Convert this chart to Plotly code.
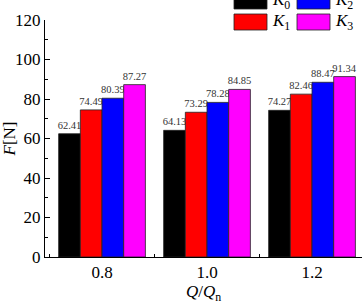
import plotly.graph_objects as go

categories = ["0.8", "1.0", "1.2"]
series_names = ["K0", "K1", "K2", "K3"]
legend_labels = ["<i>K</i><sub>0</sub>", "<i>K</i><sub>1</sub>", "<i>K</i><sub>2</sub>", "<i>K</i><sub>3</sub>"]
K0 = [62.41, 64.13, 74.27]
K1 = [74.49, 73.29, 82.46]
K2 = [80.39, 78.28, 88.47]
K3 = [87.27, 84.85, 91.34]
colors = ["#000000", "#FF0000", "#0000FF", "#FF00FF"]
y_ticks = [0, 20, 40, 60, 80, 100, 120]

FONT = "Liberation Serif, Times New Roman, serif"
fig = go.Figure()
for name, vals, col in zip(series_names, [K0, K1, K2, K3], colors):
    fig.add_trace(go.Bar(
        x=categories, y=vals, name=name, marker=dict(color=col, line=dict(color="#222222", width=0.8)),
        text=[f"{v:.2f}" for v in vals], textposition="outside", constraintext="none",
        textfont=dict(family=FONT, size=10.5, color="#333333"), cliponaxis=False,
        showlegend=False,
    ))

W, H = 362, 304
L, R, T, B = 45, 0, 20, 47
pw, ph = W - L - R, H - T - B

def px(x):
    return (x - L) / pw

def py(y):
    return (H - B - y) / ph

# manual legend, 2 columns: (K0, K2) top row, (K1, K3) second row
leg_pos = {0: (234, -7), 2: (297, -7), 1: (234, 14), 3: (297, 14)}
shapes = []
annotations = []
for i, col in enumerate(colors):
    x0, y0 = leg_pos[i]
    shapes.append(dict(type="rect", xref="paper", yref="paper", x0=px(x0), x1=px(x0 + 33),
                       y0=py(y0 + 16), y1=py(y0), fillcolor=col, line=dict(color="#222222", width=0.8)))
    annotations.append(dict(xref="paper", yref="paper", x=px(x0 + 36), y=py(y0 + 8), text=legend_labels[i],
                            showarrow=False, xanchor="left", yanchor="middle",
                            font=dict(family=FONT, size=17, color="black")))

fig.update_layout(
    width=W, height=H, margin=dict(l=L, r=R, t=T, b=B),
    paper_bgcolor="white", plot_bgcolor="white",
    barmode="group", bargap=0.174, bargroupgap=0,
    font=dict(family=FONT, size=16, color="black"),
    shapes=shapes, annotations=annotations,
    xaxis=dict(range=[-0.543, 2.476], showline=True, linecolor="black", linewidth=1,
               ticks="inside", tickson="boundaries", ticklen=3, tickcolor="black",
               showgrid=False, zeroline=False,
               tickfont=dict(family=FONT, size=17),
               title=dict(text="<i>Q</i>/<i>Q</i><sub>n</sub>", font=dict(family=FONT, size=17), standoff=4)),
    yaxis=dict(range=[0, 120], tickvals=y_ticks, showline=True, linecolor="black", linewidth=1,
               ticks="inside", ticklen=5, tickcolor="black", showgrid=False, zeroline=False,
               minor=dict(ticks="inside", dtick=10, ticklen=3, tickcolor="black", showgrid=False),
               tickfont=dict(family=FONT, size=17),
               title=dict(text="<i>F</i>[N]", font=dict(family=FONT, size=17), standoff=2)),
)
fig.write_html("out.html")
